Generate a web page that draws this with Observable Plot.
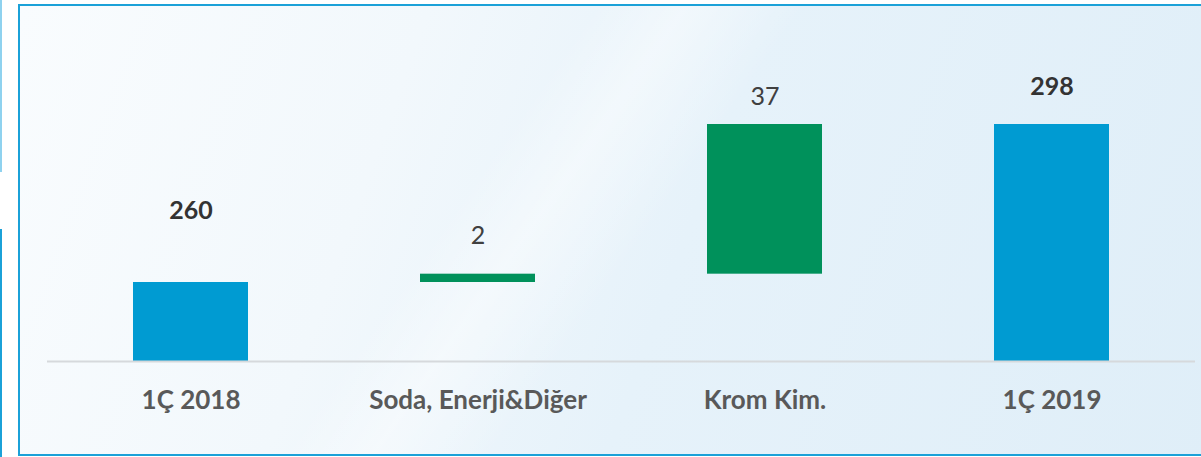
<!DOCTYPE html>
<html>
<head>
<meta charset="utf-8">
<script src="https://cdn.jsdelivr.net/npm/d3@7"></script>
<script src="https://cdn.jsdelivr.net/npm/@observablehq/plot@0.6"></script>
<style>
  html, body { margin: 0; padding: 0; background: #ffffff; }
  #wrap { position: relative; width: 1201px; height: 457px; overflow: hidden; background: #ffffff; }
  #frame {
    position: absolute; left: 18px; top: 4px; width: 1200px; height: 448px;
    border-top: 2px solid #1ba1d8; border-left: 2px solid #1ba1d8; border-bottom: 2px solid #1ba1d8;
    background:
      linear-gradient(125deg, rgba(255,255,255,0) 38%, rgba(255,255,255,0.4) 44%, rgba(255,255,255,0) 52%),
      linear-gradient(110deg, #f9fcfe 0%, #f2f8fc 30%, #e6f2fa 55%, #dfeef8 100%);
  }
  #deco1 { position: absolute; left: 0; top: 0; width: 2px; height: 172px; background: #8fd2ef; }
  #deco2 { position: absolute; left: 0; top: 229px; width: 2px; height: 228px; background: #1ba1d8; }
  #chart { position: absolute; left: 0; top: 0; }
  #chart svg { background: transparent !important; }
</style>
</head>
<body>
<div id="wrap">
  <div id="deco1"></div>
  <div id="deco2"></div>
  <div id="frame"></div>
  <div id="chart"></div>
</div>
<script>
const categories = ["1Ç 2018", "Soda, Enerji&Diğer", "Krom Kim.", "1Ç 2019"];
const values = [260, 2, 37, 298];
const kinds = ["total", "delta", "delta", "total"];
const yMin = 241;

// build waterfall rows
let running = 0;
const rows = categories.map((cat, i) => {
  let y1, y2;
  if (kinds[i] === "total") {
    y1 = yMin; y2 = values[i]; running = values[i];
  } else {
    y1 = running;
    const nextIsTotal = kinds[i + 1] === "total";
    y2 = nextIsTotal ? values[i + 1] : running + values[i];
    running = y2;
  }
  return {cat, value: values[i], kind: kinds[i], y1, y2, top: Math.max(y1, y2)};
});

const labelDy = [-72, -38, -28, -38];

const chart = Plot.plot({
  width: 1201,
  height: 457,
  marginLeft: 47,
  marginRight: 6,
  marginTop: 124,
  marginBottom: 96,
  style: {background: "transparent", fontFamily: "Lato, sans-serif"},
  x: {domain: categories, paddingInner: 0.6, paddingOuter: 0.3, label: null},
  y: {domain: [yMin, 298], axis: null},
  marks: [
    Plot.barY(rows, {x: "cat", y1: "y1", y2: "y2", fill: d => d.kind === "total" ? "#009bd2" : "#00915b"}),
    Plot.ruleY([yMin], {stroke: "#d6d9dc", strokeWidth: 2}),
    Plot.axisX({tickSize: 0, tickPadding: 29, fontSize: 26, fontWeight: "bold", fill: "#595959", label: null}),
    ...rows.map((r, i) => Plot.text([r], {
      x: "cat", y: "top", text: d => String(d.value), dy: labelDy[i],
      fontSize: 25, fontWeight: r.kind === "total" ? "bold" : "normal",
      fill: r.kind === "total" ? "#333333" : "#404040"
    }))
  ]
});
document.getElementById("chart").appendChild(chart);
</script>
</body>
</html>
